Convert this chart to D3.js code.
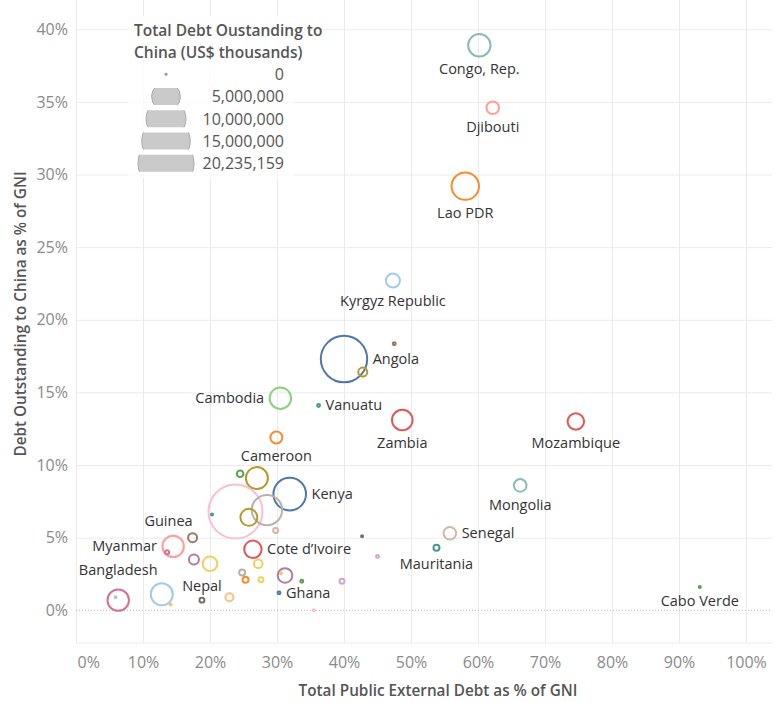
<!DOCTYPE html>
<html>
<head>
<meta charset="utf-8">
<script src="https://cdn.jsdelivr.net/npm/d3@7"></script>
<style>
  body { margin: 0; background: #fff; }
  svg { display: block; font-family: "Open Sans", sans-serif; }
</style>
</head>
<body>
<div id="chart"></div>
<script>
// one entry per country (unlabelled marks have an empty name)
const countries = [
  'Congo, Rep.', 'Djibouti', 'Lao PDR', 'Kyrgyz Republic', 'Angola', '', '', 'Cambodia',
  'Vanuatu', 'Cameroon', 'Zambia', 'Mozambique', 'Mongolia', 'Senegal', 'Mauritania', '',
  '', 'Cabo Verde', '', '', 'Kenya', '', '', '',
  '', '', 'Cote d’Ivoire', '', '', '', '', '',
  '', '', '', 'Ghana', '', 'Nepal', '', '',
  '', 'Guinea', 'Myanmar', '', 'Bangladesh', '', '', ''
];
// Total public external debt as % of GNI
const extDebtPct = [
  60.2, 62.2, 58.1, 47.3, 40.0, 47.5, 42.8, 30.5,
  36.2, 29.9, 48.7, 74.6, 66.3, 55.8, 53.8, 42.7,
  45.0, 93.1, 24.5, 27.0, 31.9, 23.8, 20.3, 25.8,
  28.5, 29.8, 26.4, 27.2, 31.2, 30.6, 33.7, 39.7,
  24.8, 25.3, 27.6, 30.3, 22.9, 18.8, 35.5, 17.6,
  20.0, 17.4, 14.5, 13.6, 6.3, 5.9, 12.8, 14.1
];
// Debt outstanding to China as % of GNI
const chinaDebtPct = [
  38.9, 34.6, 29.2, 22.7, 17.3, 18.35, 16.4, 14.6,
  14.1, 11.9, 13.1, 13.0, 8.6, 5.3, 4.3, 5.1,
  3.7, 1.6, 9.4, 9.1, 8.0, 6.8, 6.6, 6.4,
  6.9, 5.5, 4.2, 3.2, 2.4, 2.55, 2.0, 2.0,
  2.6, 2.1, 2.1, 1.2, 0.9, 0.7, 0.0, 3.5,
  3.2, 5.0, 4.4, 4.0, 0.7, 0.9, 1.1, 0.4
];
// Total debt outstanding to China (US$ thousands)
const chinaDebt = [
  3480000, 1100000, 5210000, 1360000, 14940000, 60000, 560000, 3180000,
  60000, 1000000, 2940000, 1870000, 1100000, 1100000, 250000, 30000,
  60000, 30000, 300000, 3360000, 7370000, 20235159, 30000, 2000000,
  6410000, 170000, 2100000, 510000, 1480000, 30000, 60000, 170000,
  250000, 250000, 170000, 60000, 440000, 170000, 30000, 690000,
  1480000, 560000, 3180000, 110000, 3180000, 30000, 3360000, 30000
];
const markColors = [
  '#86bcb6', '#ff9d9a', '#f28e2b', '#a0cbe8', '#4e79a7', '#9d7660', '#b6992d', '#8cd17d',
  '#499894', '#f28e2b', '#e15759', '#e15759', '#86bcb6', '#d7b5a6', '#499894', '#79706e',
  '#d4a6c8', '#59a14f', '#59a14f', '#b6992d', '#4e79a7', '#fabfd2', '#499894', '#b6992d',
  '#bab0ac', '#d7b5a6', '#e15759', '#f1ce63', '#b07aa1', '#ffbe7d', '#59a14f', '#d4a6c8',
  '#bab0ac', '#f28e2b', '#f1ce63', '#4e79a7', '#ffbe7d', '#79706e', '#fabfd2', '#b07aa1',
  '#f1ce63', '#9d7660', '#ff9d9a', '#d37295', '#d37295', '#a0cbe8', '#a0cbe8', '#ffbe7d'
];

const xTicks = [0, 10, 20, 30, 40, 50, 60, 70, 80, 90, 100];
const yTicks = [0, 5, 10, 15, 20, 25, 30, 35, 40];
const legendValues = [0, 5000000, 10000000, 15000000, 20235159];

// where each label sits relative to its mark
const labelSide = {
  'Congo, Rep.': 'below', 'Djibouti': 'below', 'Lao PDR': 'below', 'Kyrgyz Republic': 'below',
  'Angola': 'right', 'Cambodia': 'left', 'Vanuatu': 'right', 'Cameroon': 'below',
  'Zambia': 'below', 'Mozambique': 'below', 'Mongolia': 'below', 'Senegal': 'right',
  'Mauritania': 'below', 'Cabo Verde': 'below', 'Kenya': 'right', 'Cote d’Ivoire': 'right',
  'Ghana': 'right', 'Nepal': 'above', 'Guinea': 'aboveleft', 'Myanmar': 'left',
  'Bangladesh': 'above'
};

const data = countries.map((name, i) => ({
  name,
  ext: extDebtPct[i],
  china: chinaDebtPct[i],
  debt: chinaDebt[i],
  color: markColors[i],
}));

const width = 779;
const height = 702;
const plot = { left: 76, right: 772, top: 0, bottom: 643 };

const xScale = d3.scaleLinear().domain([0, 100]).range([76, 746]);
const yScale = d3.scaleLinear().domain([0, 40]).range([610.3, 29.3]);
const rScale = d3.scaleSqrt().domain([0, d3.max(chinaDebt)]).range([0, 27]);
const markR = (v) => Math.max(1, rScale(v));

const svg = d3
  .select('#chart')
  .append('svg')
  .attr('width', width)
  .attr('height', height);

// gridlines
svg.append('g')
  .attr('class', 'gridlines')
  .attr('transform', `translate(0, ${plot.bottom})`)
  .call(d3.axisBottom(xScale).tickValues(xTicks).tickFormat('').tickSize(-(plot.bottom - plot.top)))
  .call((g) => g.select('.domain').remove())
  .selectAll('line').attr('stroke', '#ebebeb');

svg.append('g')
  .attr('class', 'gridlines')
  .attr('transform', `translate(${plot.left}, 0)`)
  .call(d3.axisLeft(yScale).tickValues(yTicks.filter((d) => d > 0)).tickFormat('').tickSize(-(plot.right - plot.left)))
  .call((g) => g.select('.domain').remove())
  .selectAll('line').attr('stroke', '#ebebeb');

// bottom border + zero line
svg.append('line')
  .attr('x1', plot.left).attr('x2', plot.right)
  .attr('y1', plot.bottom).attr('y2', plot.bottom)
  .attr('stroke', '#ececec');

svg.append('line')
  .attr('x1', plot.left).attr('x2', plot.right)
  .attr('y1', yScale(0)).attr('y2', yScale(0))
  .attr('stroke', '#b5b5b5')
  .attr('stroke-dasharray', '1,2');

// axes
const xAxis = svg.append('g')
  .attr('transform', `translate(0, ${plot.bottom})`)
  .call(d3.axisBottom(xScale).tickValues(xTicks).tickFormat((d) => d + '%').tickSize(0).tickPadding(14));
xAxis.select('.domain').remove();
xAxis.selectAll('text').attr('fill', '#8a8a8a').style('font-size', '16px').style('font-family', '"Open Sans", sans-serif');
xAxis.select('.tick text').attr('text-anchor', 'start').attr('x', 1);

const yAxis = svg.append('g')
  .attr('transform', `translate(${plot.left}, 0)`)
  .call(d3.axisLeft(yScale).tickValues(yTicks).tickFormat((d) => d + '%').tickSize(0).tickPadding(8));
yAxis.select('.domain').remove();
yAxis.selectAll('text').attr('fill', '#8a8a8a').style('font-size', '16px').style('font-family', '"Open Sans", sans-serif');

// axis titles
svg.append('text')
  .attr('x', 438)
  .attr('y', 696)
  .attr('text-anchor', 'middle')
  .attr('fill', '#555')
  .style('font-size', '15.3px')
  .style('font-weight', 600)
  .text('Total Public External Debt as % of GNI');

svg.append('text')
  .attr('transform', 'translate(26, 314) rotate(-90)')
  .attr('text-anchor', 'middle')
  .attr('fill', '#555')
  .style('font-size', '15.3px')
  .style('font-weight', 600)
  .text('Debt Outstanding to China as % of GNI');

// marks
const sorted = d3.sort(data, (d) => -d.debt);
svg.append('g')
  .attr('class', 'dots')
  .selectAll('circle')
  .data(sorted)
  .join('circle')
  .attr('cx', (d) => xScale(d.ext))
  .attr('cy', (d) => yScale(d.china))
  .attr('r', (d) => markR(d.debt))
  .attr('fill', 'none')
  .attr('stroke', (d) => d.color)
  .attr('stroke-width', 2);

// labels
const labelled = data.filter((d) => d.name && labelSide[d.name]);
svg.append('g')
  .attr('class', 'labels')
  .selectAll('text')
  .data(labelled)
  .join('text')
  .each(function (d) {
    const cx = xScale(d.ext);
    const cy = yScale(d.china);
    const r = markR(d.debt) + 1;
    const side = labelSide[d.name];
    let x = cx, y = cy + 5, anchor = 'middle';
    if (side === 'below') { y = cy + r + 17; }
    if (side === 'right') { x = cx + r + 4.5; anchor = 'start'; }
    if (side === 'left') { x = cx - r - 4.5; anchor = 'end'; }
    if (side === 'above') { y = cy - r - 6 - (d.name === 'Bangladesh' ? 7 : 0); }
    if (side === 'aboveleft') { x = cx; y = cy - r - 6; anchor = 'end'; }
    d3.select(this).attr('x', x).attr('y', y).attr('text-anchor', anchor);
  })
  .attr('fill', '#333')
  .style('font-size', '14.5px')
  .text((d) => d.name);

// size legend
const legend = svg.append('g').attr('class', 'legend');
legend.append('rect')
  .attr('x', 128).attr('y', 16)
  .attr('width', 166).attr('height', 162)
  .attr('fill', '#fff')
  .attr('fill-opacity', 0.75);

legend.append('text')
  .attr('x', 134).attr('y', 36)
  .attr('fill', '#555')
  .style('font-size', '15.5px')
  .style('font-weight', 600)
  .text('Total Debt Oustanding to');
legend.append('text')
  .attr('x', 134).attr('y', 58)
  .attr('fill', '#555')
  .style('font-size', '15.5px')
  .style('font-weight', 600)
  .text('China (US$ thousands)');

const rowY = d3.scaleLinear().domain([0, legendValues.length - 1]).range([74.3, 163.3]);
const defs = svg.append('defs');
legendValues.forEach((v, i) => {
  const cy = rowY(i);
  defs.append('clipPath')
    .attr('id', 'leg-clip-' + i)
    .append('rect')
    .attr('x', 120).attr('y', cy - 8.5)
    .attr('width', 100).attr('height', 17);

  legend.append('circle')
    .attr('cx', 166)
    .attr('cy', cy)
    .attr('r', v === 0 ? 1.5 : rScale(v) + 1)
    .attr('fill', v === 0 ? '#999' : '#cacaca')
    .attr('stroke', v === 0 ? 'none' : '#a9a9a9')
    .attr('clip-path', `url(#leg-clip-${i})`);

  legend.append('text')
    .attr('x', 284)
    .attr('y', cy + 5.7)
    .attr('text-anchor', 'end')
    .attr('fill', '#555')
    .style('font-size', '16px')
    .text(d3.format(',')(v));
});
</script>
</body>
</html>
